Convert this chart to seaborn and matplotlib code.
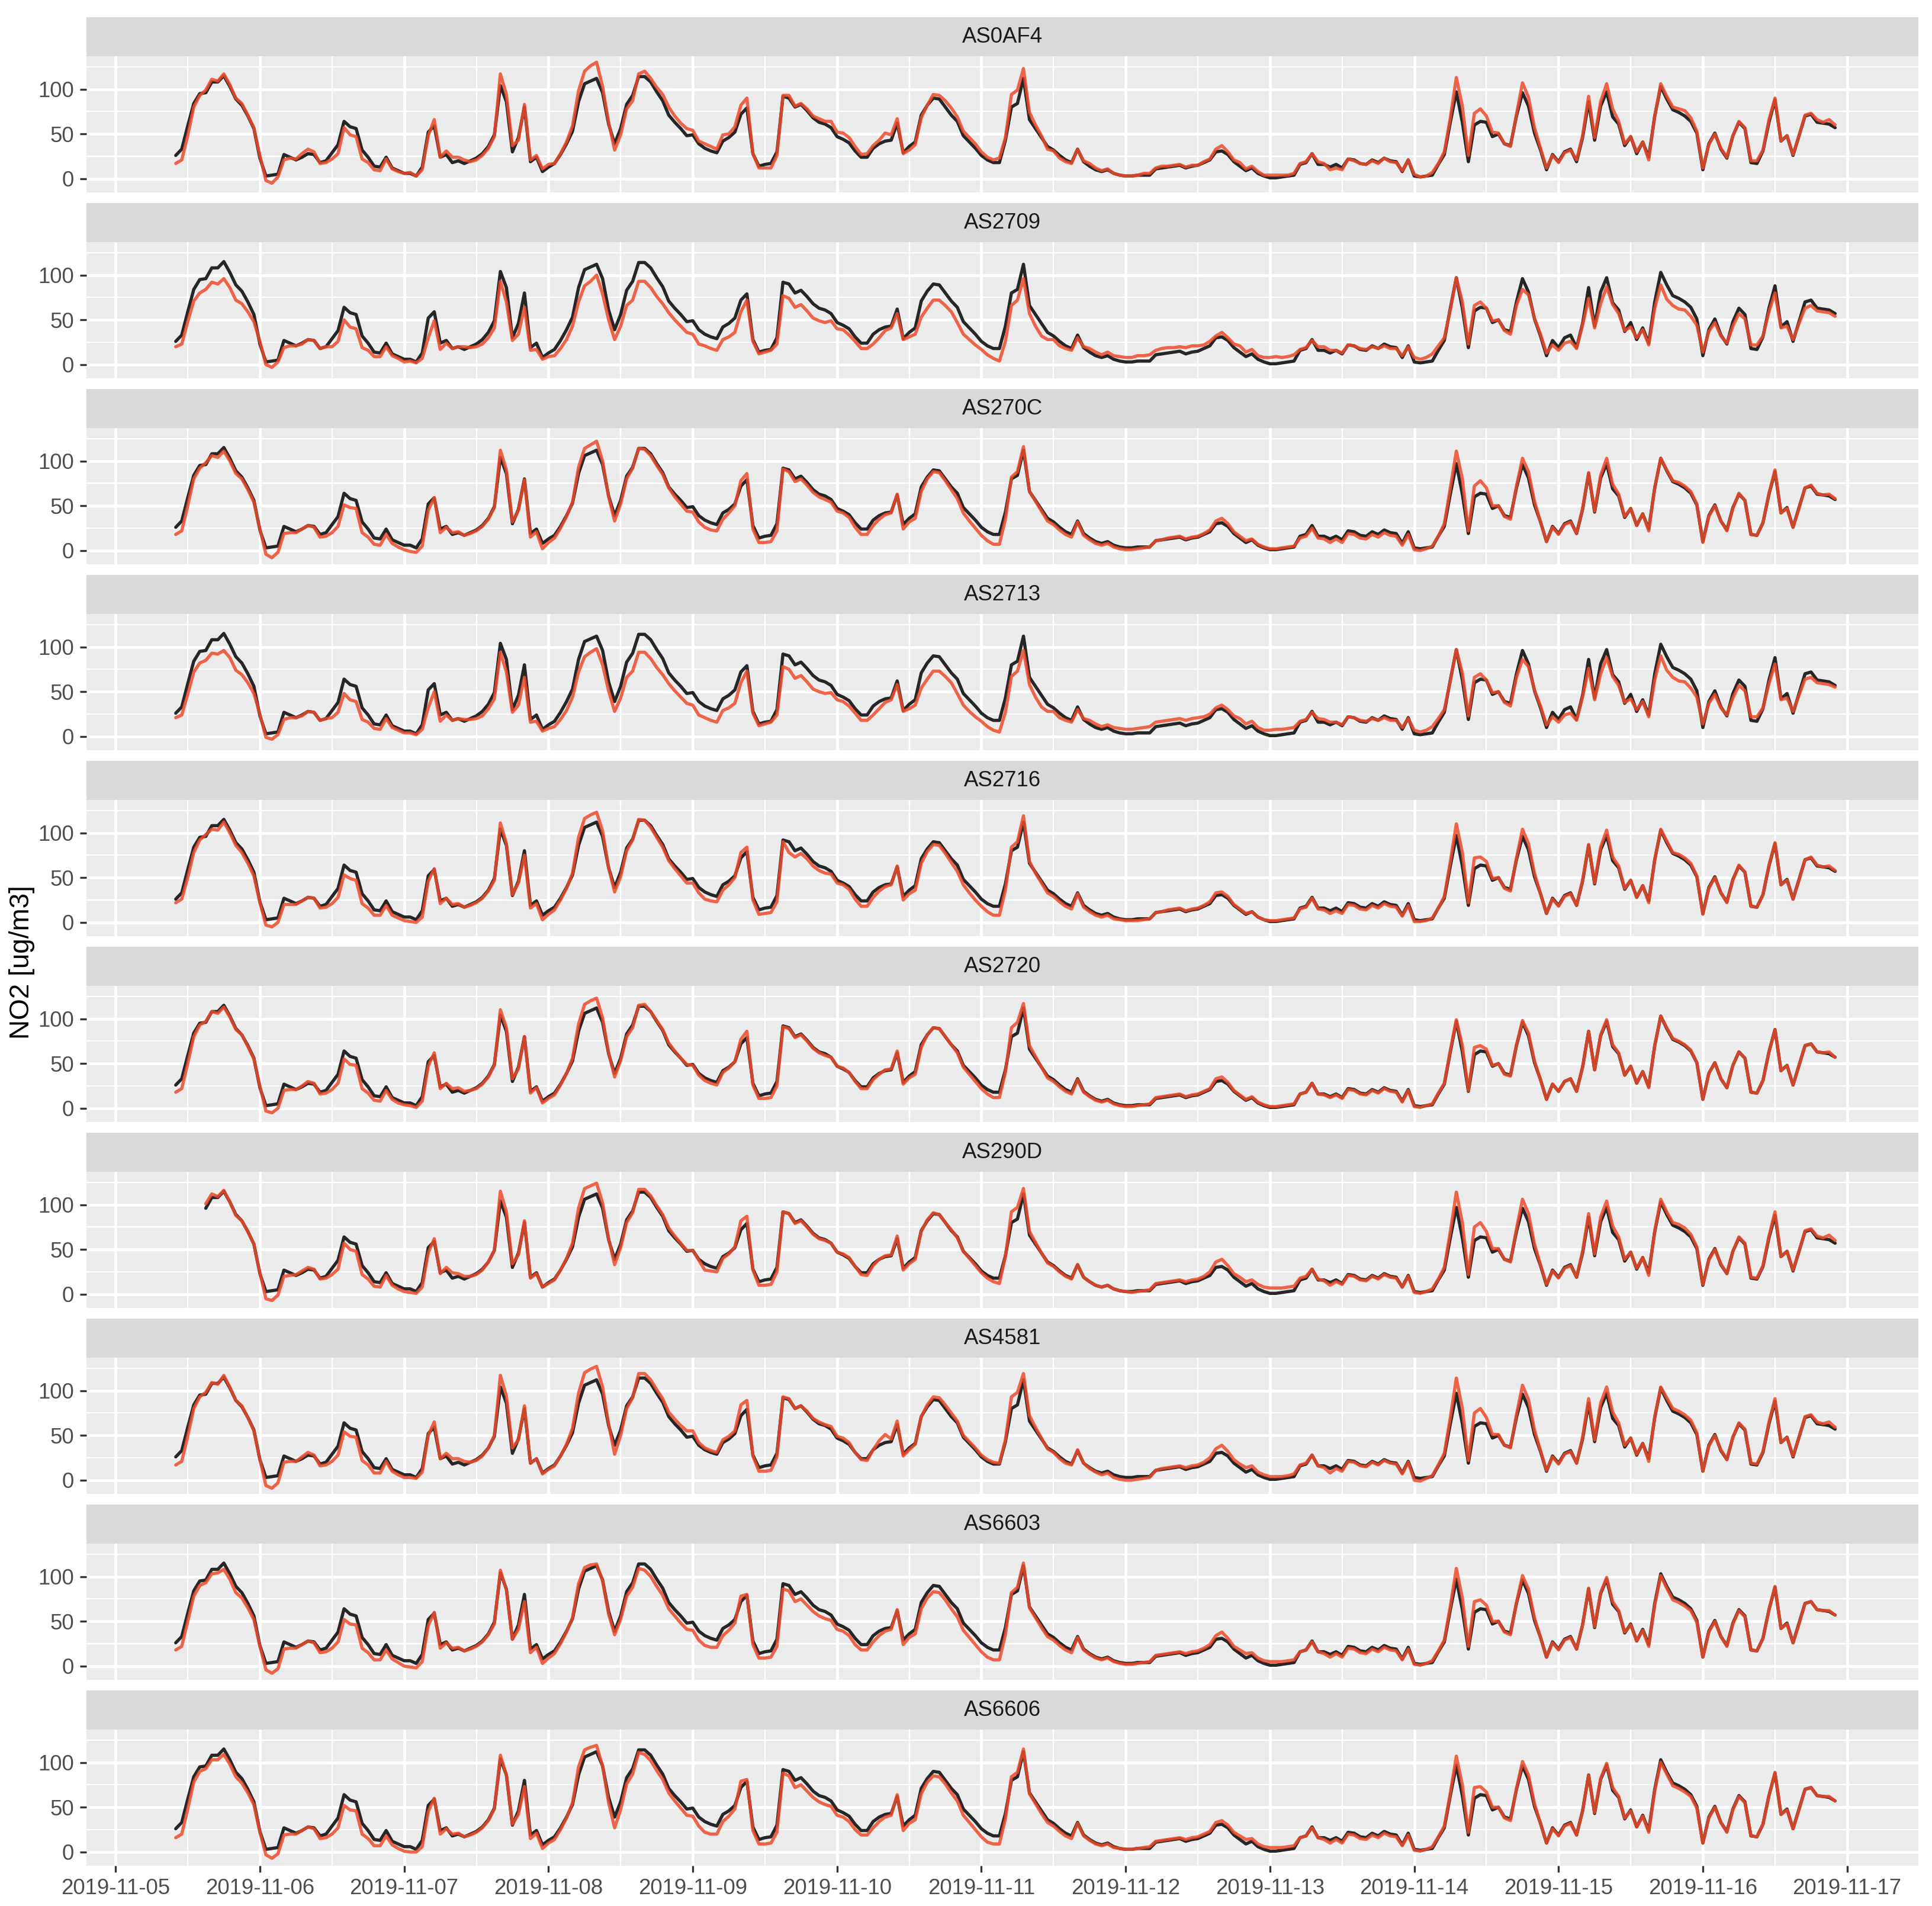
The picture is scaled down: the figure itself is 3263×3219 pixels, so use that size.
import numpy as np
import pandas as pd
import matplotlib
matplotlib.use("Agg")
import matplotlib.pyplot as plt
import matplotlib.dates as mdates
import seaborn as sns

# ---------------- data (hourly, first value 2019-11-05 10:00) ----------------
start_time = "2019-11-05 10:00"
stations = ["AS0AF4", "AS2709", "AS270C", "AS2713", "AS2716",
            "AS2720", "AS290D", "AS4581", "AS6603", "AS6606"]

reference_no2 = [
    26, 33, 59, 84, 95, 96, 108, 108, 115, 103,
    89, 82, 70, 56, 23, 3, 4, 5, 27, 24,
    21, 24, 28, 27, 18, 20, 29, 38, 64, 58,
    56, 32, 24, 14, 13, 24, 12, 9, 6, 6,
    3, 13, 52, 59, 24, 27, 18, 20, 17, 20,
    23, 28, 36, 49, 104, 86, 30, 46, 80, 19,
    24, 8, 13, 17, 27, 39, 53, 86, 106, 109,
    112, 96, 61, 39, 56, 83, 93, 114, 114, 108,
    97, 87, 71, 63, 56, 48, 49, 39, 34, 31,
    29, 42, 46, 52, 72, 79, 28, 14, 16, 17,
    30, 92, 90, 80, 83, 76, 68, 63, 61, 57,
    47, 44, 40, 31, 24, 24, 34, 39, 42, 43,
    62, 29, 36, 41, 71, 82, 90, 89, 80, 71,
    64, 48, 41, 34, 26, 21, 18, 18, 43, 80,
    84, 112, 66, 56, 46, 36, 32, 26, 21, 18,
    33, 19, 14, 10, 8, 10, 6, 4, 3, 3,
    4, 4, 4, 11, 12, 13, 14, 15, 12, 14,
    15, 18, 21, 30, 31, 27, 19, 14, 9, 12,
    6, 3, 1, 1, 2, 3, 4, 16, 18, 28,
    16, 16, 13, 16, 12, 22, 21, 17, 16, 21,
    18, 23, 20, 19, 8, 21, 3, 2, 3, 4,
    16, 27, 63, 97, 63, 19, 60, 64, 63, 47,
    50, 39, 37, 70, 96, 81, 51, 32, 10, 27,
    19, 30, 33, 19, 46, 86, 43, 81, 97, 69,
    61, 37, 47, 28, 41, 24, 70, 103, 89, 77,
    74, 70, 64, 51, 10, 39, 51, 33, 23, 48,
    63, 56, 18, 17, 31, 63, 88, 42, 48, 26,
    48, 70, 72, 63, 62, 61, 57,
]

sensor_AS0AF4 = [
    17, 21, 48, 80, 93, 99, 111, 109, 117, 105,
    90, 84, 71, 57, 26, -2, -5, 2, 21, 23,
    22, 28, 33, 30, 17, 18, 22, 28, 57, 49,
    47, 22, 18, 10, 9, 22, 11, 8, 6, 7,
    3, 10, 48, 66, 24, 31, 24, 24, 21, 19,
    21, 26, 34, 47, 117, 94, 37, 43, 83, 21,
    26, 11, 16, 17, 28, 41, 59, 98, 120, 126,
    130, 103, 63, 32, 49, 78, 87, 117, 120, 112,
    102, 94, 80, 70, 62, 56, 54, 42, 39, 36,
    33, 49, 50, 58, 82, 90, 28, 12, 12, 12,
    26, 93, 93, 81, 84, 78, 70, 67, 64, 64,
    52, 51, 46, 36, 27, 28, 37, 43, 51, 49,
    67, 28, 32, 38, 68, 82, 94, 93, 87, 79,
    69, 53, 46, 39, 30, 24, 21, 23, 46, 94,
    99, 123, 74, 60, 48, 33, 31, 23, 19, 17,
    33, 20, 17, 12, 9, 11, 6, 4, 3, 3,
    4, 6, 6, 12, 14, 14, 15, 16, 13, 15,
    15, 19, 22, 33, 37, 30, 21, 18, 11, 14,
    8, 4, 4, 4, 4, 4, 6, 17, 19, 28,
    19, 17, 10, 12, 10, 22, 20, 17, 16, 20,
    17, 23, 19, 18, 9, 21, 5, 2, 3, 7,
    17, 30, 68, 113, 81, 26, 73, 78, 70, 52,
    51, 39, 36, 72, 107, 91, 57, 34, 12, 26,
    18, 29, 32, 21, 48, 92, 46, 86, 106, 78,
    64, 39, 47, 30, 41, 21, 70, 106, 92, 80,
    78, 76, 68, 53, 12, 38, 50, 34, 24, 48,
    64, 57, 20, 20, 32, 66, 90, 42, 48, 27,
    48, 71, 73, 66, 63, 66, 60,
]

sensor_AS2709 = [
    20, 23, 48, 71, 80, 84, 92, 90, 96, 86,
    72, 68, 59, 48, 26, 0, -3, 3, 19, 21,
    21, 23, 28, 27, 18, 20, 20, 26, 50, 42,
    40, 19, 16, 9, 9, 20, 10, 7, 3, 4,
    2, 7, 30, 49, 17, 24, 18, 20, 20, 19,
    20, 23, 30, 41, 93, 70, 27, 34, 64, 16,
    17, 6, 9, 10, 18, 28, 43, 70, 88, 93,
    100, 79, 50, 28, 43, 66, 72, 93, 93, 86,
    76, 68, 58, 50, 43, 36, 34, 23, 21, 18,
    16, 28, 31, 36, 59, 72, 26, 12, 14, 16,
    23, 77, 74, 64, 67, 60, 52, 49, 47, 49,
    40, 39, 33, 26, 18, 18, 23, 30, 38, 41,
    57, 28, 31, 34, 53, 63, 72, 72, 66, 59,
    47, 34, 28, 22, 17, 11, 7, 4, 26, 66,
    72, 96, 57, 43, 32, 28, 28, 21, 18, 16,
    30, 20, 18, 14, 11, 14, 10, 9, 8, 8,
    10, 10, 11, 16, 18, 19, 19, 20, 19, 21,
    21, 22, 26, 32, 36, 30, 23, 21, 14, 17,
    10, 8, 8, 9, 8, 9, 11, 17, 19, 27,
    20, 20, 16, 16, 13, 22, 21, 18, 17, 20,
    18, 21, 18, 18, 10, 20, 8, 6, 8, 12,
    21, 30, 61, 97, 70, 23, 66, 70, 63, 49,
    50, 38, 34, 66, 84, 78, 52, 34, 13, 22,
    16, 24, 26, 18, 44, 74, 41, 68, 87, 67,
    57, 38, 42, 30, 39, 22, 63, 89, 73, 66,
    62, 61, 54, 44, 14, 37, 47, 32, 24, 43,
    57, 51, 22, 22, 32, 59, 80, 41, 43, 28,
    46, 63, 66, 60, 59, 58, 54,
]

sensor_AS270C = [
    18, 22, 50, 80, 92, 98, 106, 104, 111, 100,
    86, 80, 68, 54, 24, -4, -8, -2, 19, 20,
    20, 24, 28, 26, 15, 16, 20, 27, 51, 48,
    47, 20, 15, 7, 6, 18, 8, 4, 1, -1,
    -2, 5, 45, 59, 20, 26, 20, 21, 17, 19,
    22, 27, 35, 48, 112, 90, 32, 45, 79, 15,
    21, 2, 9, 14, 25, 38, 54, 93, 114, 118,
    122, 100, 60, 33, 52, 80, 92, 114, 113, 106,
    95, 85, 70, 60, 52, 44, 43, 32, 26, 23,
    22, 35, 42, 50, 78, 86, 24, 9, 9, 10,
    22, 91, 88, 77, 80, 73, 65, 60, 57, 54,
    44, 42, 37, 26, 18, 18, 28, 35, 40, 42,
    63, 24, 32, 36, 66, 80, 88, 87, 78, 68,
    58, 42, 33, 25, 17, 11, 7, 7, 35, 82,
    88, 116, 66, 55, 44, 33, 29, 23, 18, 15,
    32, 17, 12, 8, 6, 8, 4, 2, 1, 1,
    2, 3, 4, 11, 12, 14, 15, 16, 13, 15,
    16, 19, 23, 33, 36, 30, 21, 16, 11, 13,
    7, 4, 2, 2, 3, 4, 5, 14, 16, 25,
    14, 13, 9, 13, 9, 19, 18, 14, 13, 18,
    15, 20, 17, 16, 6, 18, 1, 0, 2, 5,
    16, 30, 70, 111, 80, 22, 72, 78, 70, 50,
    50, 38, 35, 72, 103, 88, 55, 32, 10, 26,
    18, 29, 32, 19, 47, 87, 44, 84, 103, 74,
    63, 38, 47, 28, 41, 22, 70, 103, 90, 78,
    76, 72, 66, 52, 9, 38, 50, 33, 22, 47,
    64, 56, 18, 17, 31, 64, 90, 42, 47, 26,
    47, 70, 73, 64, 62, 63, 58,
]

sensor_AS2713 = [
    21, 24, 47, 72, 82, 85, 93, 92, 96, 88,
    74, 69, 60, 48, 25, -1, -3, 2, 19, 21,
    21, 23, 28, 27, 18, 20, 21, 27, 48, 41,
    39, 19, 16, 9, 8, 20, 10, 7, 4, 4,
    2, 8, 32, 50, 17, 24, 18, 20, 19, 19,
    20, 23, 31, 42, 94, 72, 27, 35, 66, 16,
    17, 6, 9, 11, 19, 29, 44, 72, 89, 94,
    98, 80, 51, 28, 43, 66, 73, 94, 94, 87,
    77, 69, 59, 51, 44, 37, 35, 24, 21, 18,
    16, 29, 32, 37, 60, 73, 26, 12, 14, 16,
    24, 78, 75, 65, 68, 61, 53, 50, 48, 49,
    41, 39, 34, 26, 18, 18, 24, 31, 38, 41,
    58, 28, 31, 35, 54, 64, 73, 73, 67, 60,
    48, 35, 28, 22, 17, 11, 7, 5, 27, 67,
    73, 96, 58, 44, 33, 28, 28, 21, 18, 16,
    30, 20, 18, 14, 11, 13, 10, 9, 8, 8,
    9, 10, 11, 16, 17, 18, 19, 20, 18, 20,
    21, 22, 25, 32, 35, 30, 23, 20, 14, 17,
    10, 7, 7, 8, 8, 9, 10, 17, 19, 27,
    20, 19, 16, 16, 13, 22, 21, 18, 17, 20,
    18, 21, 18, 18, 10, 20, 7, 5, 7, 11,
    20, 30, 62, 97, 71, 23, 66, 70, 63, 49,
    50, 38, 34, 66, 86, 78, 52, 34, 13, 22,
    16, 24, 26, 18, 44, 76, 41, 70, 88, 67,
    57, 38, 42, 30, 39, 22, 63, 90, 74, 66,
    62, 61, 54, 44, 14, 37, 47, 32, 24, 43,
    57, 51, 22, 22, 32, 59, 81, 41, 43, 28,
    46, 64, 66, 60, 59, 58, 55,
]

sensor_AS2716 = [
    22, 26, 50, 78, 92, 98, 104, 103, 112, 100,
    86, 78, 66, 52, 22, -3, -5, 0, 20, 20,
    20, 24, 28, 27, 16, 17, 21, 28, 53, 49,
    47, 21, 16, 8, 8, 19, 8, 5, 2, 1,
    0, 6, 46, 60, 21, 27, 20, 21, 17, 19,
    22, 27, 35, 47, 111, 88, 31, 44, 75, 16,
    21, 3, 9, 14, 25, 38, 55, 95, 116, 120,
    123, 102, 61, 34, 51, 80, 92, 115, 114, 106,
    95, 84, 69, 60, 52, 44, 44, 33, 26, 24,
    23, 36, 42, 50, 78, 84, 25, 9, 10, 11,
    23, 90, 78, 73, 77, 71, 63, 58, 55, 54,
    44, 42, 37, 26, 18, 18, 28, 35, 40, 42,
    63, 25, 32, 36, 66, 79, 87, 86, 77, 67,
    57, 42, 33, 25, 18, 12, 8, 8, 36, 84,
    90, 119, 68, 55, 44, 33, 29, 23, 18, 15,
    32, 17, 12, 8, 6, 8, 4, 3, 2, 2,
    2, 3, 4, 11, 12, 14, 15, 16, 13, 15,
    16, 19, 23, 33, 34, 29, 20, 15, 10, 12,
    6, 3, 2, 2, 3, 4, 5, 15, 17, 27,
    15, 14, 10, 13, 10, 20, 19, 15, 14, 19,
    16, 21, 18, 17, 7, 19, 1, 1, 2, 5,
    16, 29, 68, 110, 78, 22, 72, 73, 68, 49,
    50, 38, 35, 72, 104, 88, 55, 32, 10, 26,
    18, 29, 32, 19, 47, 87, 44, 84, 103, 73,
    63, 38, 47, 28, 41, 22, 70, 104, 91, 78,
    76, 72, 66, 52, 9, 38, 50, 33, 22, 47,
    64, 56, 18, 17, 31, 64, 89, 42, 47, 26,
    47, 70, 73, 64, 62, 63, 58,
]

sensor_AS2720 = [
    18, 22, 50, 80, 93, 97, 108, 106, 113, 102,
    88, 82, 69, 55, 25, -3, -5, 0, 20, 21,
    21, 25, 30, 28, 16, 17, 21, 28, 55, 49,
    48, 22, 17, 9, 8, 20, 10, 6, 4, 3,
    1, 8, 47, 62, 22, 28, 22, 23, 19, 20,
    22, 27, 35, 48, 110, 90, 33, 44, 80, 17,
    23, 6, 11, 15, 26, 39, 56, 94, 116, 120,
    123, 101, 62, 35, 53, 80, 90, 115, 116, 108,
    98, 88, 73, 64, 56, 49, 48, 37, 31, 28,
    26, 40, 45, 52, 77, 86, 26, 11, 11, 12,
    25, 91, 89, 79, 82, 75, 67, 62, 59, 57,
    47, 45, 40, 30, 22, 22, 32, 38, 43, 44,
    64, 27, 34, 38, 68, 82, 90, 89, 80, 71,
    62, 46, 38, 30, 22, 16, 12, 12, 40, 90,
    96, 117, 70, 58, 46, 34, 30, 24, 19, 16,
    32, 18, 13, 9, 7, 9, 5, 3, 2, 2,
    3, 4, 5, 12, 13, 14, 15, 16, 13, 15,
    16, 19, 22, 33, 35, 29, 20, 15, 10, 13,
    7, 4, 2, 2, 3, 4, 5, 16, 18, 28,
    16, 15, 12, 15, 11, 21, 20, 16, 15, 20,
    17, 22, 19, 18, 7, 20, 2, 1, 3, 5,
    17, 28, 65, 99, 70, 20, 68, 70, 66, 48,
    50, 38, 36, 71, 98, 84, 53, 32, 10, 27,
    19, 30, 33, 19, 46, 86, 43, 82, 99, 71,
    62, 37, 47, 28, 41, 23, 70, 103, 90, 78,
    75, 71, 65, 51, 10, 39, 51, 33, 23, 48,
    63, 56, 18, 17, 31, 63, 88, 42, 48, 26,
    48, 70, 72, 63, 62, 63, 57,
]

sensor_AS290D = [
    None, None, None, None, None, 101, 112, 109, 116, 103,
    88, 82, 70, 56, 24, -5, -7, -1, 20, 21,
    22, 26, 30, 28, 17, 18, 22, 28, 57, 50,
    48, 22, 17, 9, 8, 21, 10, 6, 3, 2,
    1, 8, 46, 62, 23, 30, 24, 23, 20, 20,
    22, 27, 36, 49, 115, 92, 34, 44, 82, 18,
    23, 8, 12, 16, 27, 40, 57, 96, 118, 121,
    124, 102, 62, 33, 52, 80, 91, 117, 117, 110,
    99, 89, 74, 65, 57, 49, 49, 38, 27, 26,
    25, 40, 45, 53, 82, 87, 27, 10, 10, 11,
    25, 92, 90, 79, 82, 75, 67, 62, 60, 57,
    47, 45, 41, 31, 22, 21, 32, 39, 43, 44,
    65, 27, 34, 39, 70, 83, 91, 89, 80, 72,
    63, 48, 40, 32, 24, 18, 14, 12, 42, 92,
    97, 118, 70, 58, 46, 35, 31, 25, 20, 17,
    33, 19, 14, 10, 8, 10, 6, 4, 3, 2,
    3, 4, 5, 12, 13, 14, 15, 16, 14, 16,
    17, 20, 25, 36, 39, 32, 23, 19, 14, 16,
    11, 8, 7, 7, 7, 8, 9, 18, 20, 28,
    17, 15, 10, 14, 11, 21, 20, 16, 15, 20,
    17, 22, 19, 18, 8, 20, 2, 1, 3, 6,
    17, 30, 70, 114, 80, 22, 75, 80, 70, 51,
    51, 39, 36, 73, 106, 90, 56, 33, 11, 26,
    18, 29, 32, 19, 48, 90, 45, 86, 104, 76,
    64, 39, 47, 29, 41, 21, 71, 106, 92, 80,
    78, 74, 67, 53, 11, 38, 50, 34, 23, 48,
    64, 57, 19, 18, 32, 65, 92, 42, 48, 27,
    48, 71, 73, 65, 63, 66, 60,
]

sensor_AS4581 = [
    17, 21, 49, 80, 93, 98, 109, 107, 117, 104,
    89, 83, 70, 55, 23, -6, -9, -3, 20, 21,
    21, 26, 31, 28, 16, 17, 21, 28, 54, 49,
    48, 22, 17, 8, 8, 21, 10, 6, 3, 3,
    2, 9, 50, 65, 24, 30, 24, 24, 21, 20,
    22, 27, 36, 50, 117, 94, 36, 45, 83, 19,
    24, 7, 12, 16, 27, 40, 58, 97, 120, 124,
    127, 104, 63, 29, 50, 80, 92, 119, 119, 112,
    101, 91, 76, 68, 61, 55, 55, 42, 36, 33,
    31, 45, 49, 55, 84, 89, 27, 10, 10, 11,
    26, 93, 91, 80, 83, 77, 69, 65, 62, 60,
    49, 47, 42, 31, 23, 22, 34, 44, 51, 46,
    66, 27, 34, 40, 71, 84, 93, 92, 84, 75,
    66, 50, 43, 36, 28, 23, 20, 19, 45, 93,
    98, 119, 72, 59, 47, 35, 31, 24, 19, 17,
    34, 19, 13, 9, 6, 8, 3, 1, 0, 0,
    1, 2, 3, 11, 13, 14, 15, 16, 14, 16,
    17, 20, 25, 35, 39, 32, 23, 18, 14, 16,
    9, 6, 4, 4, 4, 5, 7, 17, 19, 28,
    16, 14, 8, 13, 10, 21, 20, 16, 15, 20,
    17, 22, 19, 18, 7, 20, 0, -1, 2, 5,
    17, 30, 70, 114, 80, 22, 75, 80, 70, 51,
    51, 39, 36, 73, 106, 90, 56, 33, 11, 26,
    18, 29, 32, 19, 48, 91, 45, 86, 104, 76,
    64, 39, 47, 29, 41, 21, 71, 104, 92, 80,
    77, 73, 67, 53, 10, 38, 50, 34, 23, 48,
    64, 57, 19, 18, 32, 65, 91, 42, 48, 27,
    48, 71, 73, 65, 63, 65, 59,
]

sensor_AS6603 = [
    18, 22, 50, 78, 90, 93, 103, 104, 108, 97,
    82, 76, 65, 52, 22, -4, -8, -3, 19, 20,
    20, 24, 28, 26, 15, 16, 20, 27, 52, 47,
    46, 20, 15, 7, 7, 18, 8, 4, 0, -1,
    -2, 5, 45, 60, 20, 26, 20, 21, 17, 19,
    22, 27, 35, 47, 107, 85, 30, 41, 72, 15,
    21, 3, 9, 14, 25, 38, 54, 92, 110, 113,
    114, 95, 58, 35, 52, 78, 88, 109, 107, 100,
    89, 79, 64, 56, 48, 41, 40, 29, 23, 21,
    21, 34, 40, 48, 78, 80, 24, 9, 9, 10,
    22, 86, 84, 72, 75, 68, 61, 56, 53, 51,
    41, 39, 34, 24, 18, 18, 27, 34, 39, 41,
    63, 24, 32, 36, 64, 76, 83, 82, 74, 64,
    55, 40, 32, 24, 16, 10, 7, 7, 35, 82,
    88, 115, 65, 54, 43, 33, 29, 23, 18, 15,
    32, 18, 13, 9, 7, 9, 5, 3, 2, 2,
    3, 4, 5, 12, 13, 14, 15, 16, 14, 16,
    17, 20, 24, 34, 38, 31, 22, 18, 14, 15,
    9, 6, 5, 5, 5, 6, 7, 16, 18, 27,
    16, 14, 10, 14, 10, 20, 19, 15, 14, 19,
    16, 21, 18, 17, 7, 19, 2, 1, 3, 6,
    17, 29, 67, 109, 76, 22, 72, 74, 68, 50,
    50, 38, 35, 71, 101, 86, 54, 32, 10, 26,
    18, 29, 32, 19, 46, 87, 44, 82, 99, 72,
    62, 38, 46, 28, 40, 22, 68, 101, 87, 74,
    71, 67, 62, 49, 10, 38, 50, 33, 22, 47,
    62, 55, 18, 17, 31, 63, 89, 42, 47, 26,
    47, 70, 72, 63, 62, 62, 57,
]

sensor_AS6606 = [
    16, 20, 48, 78, 90, 93, 103, 103, 109, 98,
    84, 77, 66, 53, 22, -3, -7, -2, 19, 20,
    20, 24, 28, 26, 15, 16, 20, 27, 52, 47,
    46, 20, 15, 7, 7, 18, 8, 4, 1, 0,
    0, 6, 45, 60, 20, 26, 20, 21, 17, 19,
    22, 27, 35, 48, 108, 86, 31, 42, 73, 15,
    21, 4, 10, 14, 25, 38, 55, 95, 114, 117,
    119, 96, 55, 27, 47, 76, 87, 111, 109, 102,
    91, 81, 66, 57, 49, 41, 40, 29, 22, 20,
    20, 34, 40, 48, 79, 81, 24, 9, 9, 10,
    22, 88, 85, 72, 75, 68, 61, 56, 53, 51,
    41, 39, 34, 25, 19, 19, 27, 34, 39, 41,
    64, 24, 32, 36, 65, 78, 85, 84, 76, 66,
    57, 41, 33, 25, 17, 11, 9, 9, 37, 84,
    89, 115, 65, 54, 43, 33, 29, 23, 18, 15,
    32, 18, 13, 9, 7, 9, 5, 4, 3, 3,
    4, 5, 6, 12, 13, 14, 15, 16, 14, 16,
    17, 20, 23, 33, 35, 30, 22, 18, 14, 15,
    9, 6, 5, 5, 5, 6, 7, 16, 18, 27,
    16, 14, 10, 14, 10, 20, 19, 15, 14, 19,
    16, 21, 18, 17, 7, 19, 2, 1, 3, 6,
    17, 29, 66, 107, 75, 22, 72, 73, 67, 50,
    50, 38, 35, 71, 101, 86, 54, 32, 10, 26,
    18, 29, 32, 19, 46, 86, 44, 82, 99, 72,
    62, 38, 46, 28, 40, 22, 68, 100, 87, 74,
    71, 67, 62, 49, 10, 38, 50, 33, 22, 47,
    62, 55, 18, 17, 31, 63, 89, 42, 47, 26,
    47, 70, 72, 63, 62, 62, 57,
]

# AS290D reference record begins at 15:00 (first five hours missing)
reference_AS290D = [None] * 5 + reference_no2[5:]

sensor_series = {
    "AS0AF4": sensor_AS0AF4, "AS2709": sensor_AS2709, "AS270C": sensor_AS270C,
    "AS2713": sensor_AS2713, "AS2716": sensor_AS2716, "AS2720": sensor_AS2720,
    "AS290D": sensor_AS290D, "AS4581": sensor_AS4581, "AS6603": sensor_AS6603,
    "AS6606": sensor_AS6606,
}
reference_series = {s: reference_no2 for s in stations}
reference_series["AS290D"] = reference_AS290D

y_label = "NO2 [ug/m3]"
y_major = [0, 50, 100]
y_minor = [25, 75, 125]

# ---------------- style ----------------
sns.set_style("darkgrid")
plt.rcParams["font.family"] = ["Liberation Sans", "DejaVu Sans"]

W_PX, H_PX, DPI = 3263, 3219, 300
fig = plt.figure(figsize=(W_PX / DPI, H_PX / DPI), dpi=DPI)
fig.patch.set_facecolor("white")

L_PX, R_PX = 146, 3240
TOP0, STRIP_H, PANEL_H, STEP = 29, 66, 230, 314

times = pd.date_range(start_time, periods=len(reference_no2), freq="h")
t_lo = pd.Timestamp("2019-11-05 09:00")
t_hi = times[-1]
span = t_hi - t_lo
x_lo, x_hi = t_lo - 0.05 * span, t_hi + 0.05 * span

REF_COLOR = "#262626"
SENSOR_COLOR = "#EE4B2B"
GRID_MAJOR = 1.15
GRID_MINOR = 0.55
TEXT_GREY = "#4D4D4D"

for i, st in enumerate(stations):
    top = TOP0 + i * STEP
    # strip
    sax = fig.add_axes([L_PX / W_PX, 1 - (top + STRIP_H) / H_PX,
                        (R_PX - L_PX) / W_PX, STRIP_H / H_PX])
    sax.set_facecolor("#D9D9D9")
    sax.set_xticks([]); sax.set_yticks([])
    sax.grid(False)
    for sp in sax.spines.values():
        sp.set_visible(False)
    sax.text(0.5, 0.5, st, ha="center", va="center", fontsize=8.8,
             color="#1A1A1A", transform=sax.transAxes)

    # panel
    ax = fig.add_axes([L_PX / W_PX, 1 - (top + STRIP_H + PANEL_H) / H_PX,
                       (R_PX - L_PX) / W_PX, PANEL_H / H_PX])
    ax.set_facecolor("#EBEBEB")
    df = pd.DataFrame({
        "time": times,
        "reference": pd.to_numeric(pd.Series(reference_series[st]), errors="coerce"),
        "sensor": pd.to_numeric(pd.Series(sensor_series[st]), errors="coerce"),
    }).dropna(subset=["reference", "sensor"], how="all")

    sns.lineplot(data=df.dropna(subset=["reference"]), x="time", y="reference",
                 ax=ax, color=REF_COLOR, linewidth=1.3, estimator=None,
                 legend=False)
    sns.lineplot(data=df.dropna(subset=["sensor"]), x="time", y="sensor",
                 ax=ax, color=SENSOR_COLOR, linewidth=1.3, alpha=0.85,
                 estimator=None, legend=False)

    ax.set_xlim(x_lo, x_hi)
    ax.set_ylim(-15.3, 136.7)
    ax.set_yticks(y_major)
    ax.set_yticks(y_minor, minor=True)
    ax.xaxis.set_major_locator(mdates.DayLocator())
    ax.xaxis.set_minor_locator(mdates.HourLocator(byhour=[12]))
    ax.xaxis.set_major_formatter(mdates.DateFormatter("%Y-%m-%d"))

    ax.set_axisbelow(True)
    ax.grid(True, which="major", color="white", linewidth=GRID_MAJOR)
    ax.grid(True, which="minor", color="white", linewidth=GRID_MINOR)
    for sp in ax.spines.values():
        sp.set_visible(False)

    ax.set_xlabel("")
    ax.set_ylabel("")
    ax.tick_params(axis="y", which="major", length=2.75, width=0.8,
                   color="#333333", labelsize=8.8, labelcolor=TEXT_GREY,
                   pad=2.2, left=True)
    ax.tick_params(axis="both", which="minor", length=0)
    if i == len(stations) - 1:
        ax.tick_params(axis="x", which="major", length=2.75, width=0.8,
                       color="#333333", labelsize=8.8, labelcolor=TEXT_GREY,
                       pad=2.2, bottom=True)
    else:
        ax.tick_params(axis="x", which="major", length=0, labelbottom=False)

fig.text(37 / W_PX, 1 - 1625 / H_PX, y_label, rotation=90, ha="center",
         va="center", fontsize=11, color="black")

fig.savefig("out.png", dpi=DPI, facecolor="white")
